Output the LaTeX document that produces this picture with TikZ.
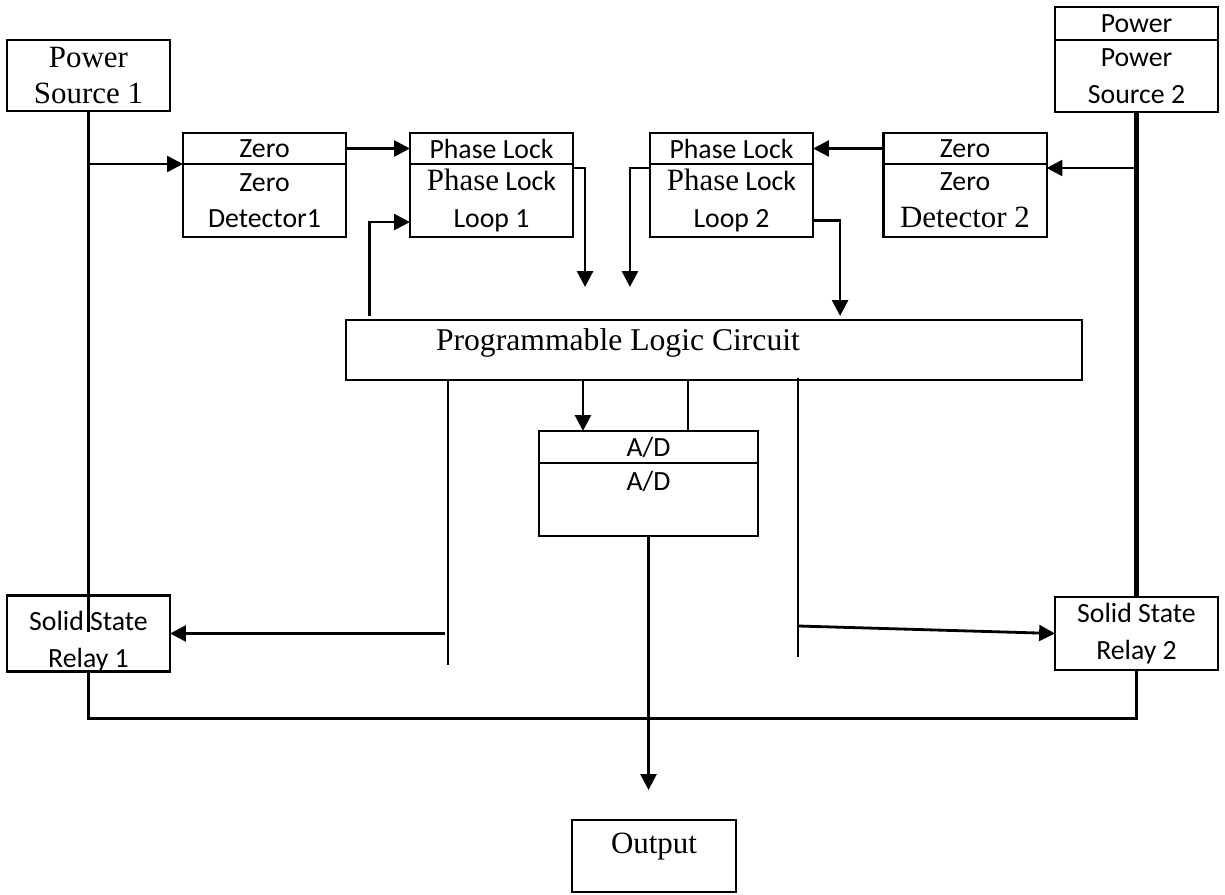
\documentclass[tikz,border=0pt]{standalone}
\usepackage{fontspec}
\setmainfont{Liberation Serif}
\newfontfamily\calibri{Carlito}
\usepackage{tikz}
\usetikzlibrary{positioning, arrows.meta}

\newcommand\sanstxt{\calibri\fontsize{7.9}{10.4}\selectfont}
\newcommand\seriftxt{\rmfamily\fontsize{8.8}{10.4}\selectfont}

\tikzset{
    box/.style = {draw, line width=0.6pt, inner sep=0pt, outer sep=0pt, align=center, font=\sanstxt, minimum width=1.63cm},
    arr/.style = {-{Triangle[length=4.5pt, width=4.5pt]}, line width=0.8pt},
    wire/.style = {line width=0.7pt}
}

\begin{document}
\begin{tikzpicture}[x=0.01cm, y=-0.01cm]
    \useasboundingbox (0, 0) rectangle (1225, 895);

    % sources and detectors
    \node [box, font=\seriftxt, minimum height=0.71cm] (ps1) at (88.5, 75.5) {Power\\Source 1};
    \node [box, minimum height=0.31cm] (zd1top) at (264.5, 148.5) {Zero};
    \node [box, minimum height=0.73cm, below=0pt of zd1top] (zd1) {Zero\\Detector1};
    \node [box, minimum height=0.31cm] (pll1top) at (491.5, 148.5) {Phase Lock};
    \node [box, minimum height=0.73cm, below=0pt of pll1top] (pll1) {{\seriftxt Phase} Lock\\Loop 1};
    \node [box, minimum height=0.31cm] (pll2top) at (731.5, 148.5) {Phase Lock};
    \node [box, minimum height=0.73cm, below=0pt of pll2top] (pll2) {{\seriftxt Phase} Lock\\Loop 2};
    \node [box, minimum height=0.31cm] (zd2top) at (965, 148.5) {Zero};
    \node [box, minimum height=0.73cm, below=0pt of zd2top] (zd2) {Zero\\{\seriftxt Detector 2}};
    \node [box, minimum height=0.33cm] (ps2top) at (1136.5, 23.5) {Power};
    \node [box, minimum height=0.72cm, below=0pt of ps2top] (ps2) {Power\\Source 2};

    % logic, converter, relays
    \node [box, font={\rmfamily\fontsize{9}{11}\selectfont}, minimum width=7.36cm, minimum height=0.6cm, text depth=0.2cm] (plc) at (714, 350) {Programmable Logic Circuit\hspace*{1.92cm}};
    \node [box, minimum width=2.19cm, minimum height=0.32cm] (adtop) at (648.5, 447) {A/D};
    \node [box, minimum width=2.19cm, minimum height=0.73cm, text depth=0.38cm, below=0pt of adtop] (ad) {A/D};
    \node [box, minimum height=0.73cm] (ssr1) at (88.5, 633.5) {\rule{0pt}{0.35cm}Solid State\\Relay 1};
    \node [box, minimum height=0.73cm] (ssr2) at (1136.5, 633.5) {Solid State\\Relay 2};
    \node [box, font=\seriftxt, minimum width=1.64cm, minimum height=0.72cm, text depth=0.25cm] (out) at (654, 856) {Output};

    \coordinate (ps1end) at (88.5, 632);
    \coordinate (zd2in) at ([yshift=-0.04cm]zd2.north east);
    \coordinate (adin) at ([xshift=-0.655cm]adtop.north);
    \coordinate (adtap) at ([xshift=0.395cm]adtop.north);
    \coordinate (plcl) at ([xshift=1.02cm]plc.south west);
    \coordinate (plcr) at ([xshift=4.52cm, yshift=0.02cm]plc.south west);
    \coordinate (outin) at (648.5, 790);

    % power source 1 side
    \draw [wire] (ps1.south) -- (ps1end);
    \draw [arr] (ps1.south |- zd1.north west) -- (zd1.north west);
    \draw [arr] (zd1top.east) -- (pll1top.west);
    \draw [arr] ([xshift=0.24cm, yshift=0.04cm]plc.north west) |- ([yshift=-0.215cm]pll1.west);
    \draw [arr] ([yshift=-0.04cm]pll1.north east) -- ++(12, 0) -- ++(0, 119);

    % power source 2 side
    \draw [line width=1.2pt] (ps2.south) -- (ssr2.north);
    \draw [arr] (ps2.south |- zd2in) -- (zd2in);
    \draw [arr] (zd2top.west) -- (pll2top.east);
    \draw [arr] ([yshift=-0.04cm]pll2.north west) -- ++(-20, 0) -- ++(0, 119);
    \draw [arr] ([yshift=-0.2cm]pll2.east) -| ([xshift=-2.42cm, yshift=0.04cm]plc.north east);

    % logic outputs
    \draw [wire] (plcl) -- ++(0, 285);
    \draw [wire] (plcr) -- ++(0, 279);
    \draw [arr] (plc.south -| adin) -- (adin);
    \draw [wire] (plc.south -| adtap) -- (adtap);
    \draw [arr] ([xshift=-0.03cm]plcl |- ssr1.east) -- (ssr1.east);
    \draw [arr] ([yshift=0.075cm]plcr |- ssr2.west) -- (ssr2.west);
    \draw [arr] (ad.south) -- (outin);

    % relay return
    \draw [wire] (ssr1.south) -- ++(0, 47) -| (ssr2.south);
\end{tikzpicture}
\end{document}
